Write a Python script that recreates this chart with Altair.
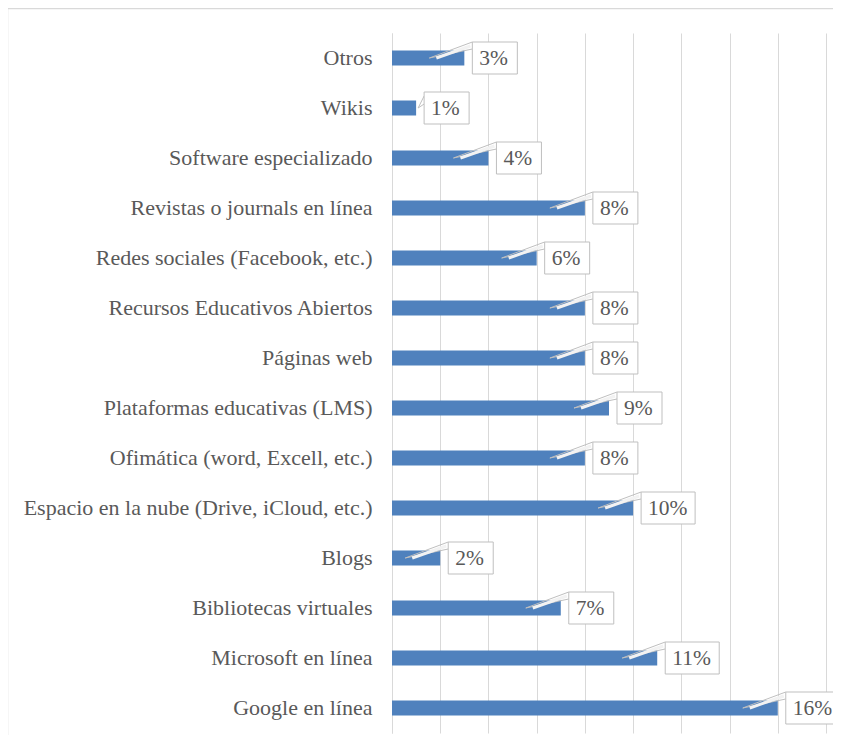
import altair as alt
import pandas as pd

SP = "\u2005"
categories = [
    "Otros" + SP, "Wikis" + SP, "Software especializado" + SP, "Revistas o journals en línea",
    "Redes sociales (Facebook, etc.)", "Recursos Educativos Abiertos", "Páginas web",
    "Plataformas educativas (LMS)", "Ofimática (word, Excell, etc.)" + SP,
    "Espacio en la nube (Drive, iCloud, etc.)" + SP, "Blogs", "Bibliotecas virtuales" + SP,
    "Microsoft en línea", "Google en línea" + SP,
]
values = [3, 1, 4, 8, 6, 8, 8, 9, 8, 10, 2, 7, 11, 16]
labels = [f"{v}%" for v in values]

df = pd.DataFrame({"cat": categories, "val": values, "lab": labels})

FONT = "Liberation Serif"
BLUE = "#4F81BD"
GRID = "#D9D9D9"
TXT = "#595959"

ysc = alt.Scale(domain=categories, paddingInner=0.7, paddingOuter=0.35)
xsc = alt.Scale(domain=[0, 18], nice=False)

y = alt.Y("cat:N", sort=categories, scale=ysc, title=None,
          axis=alt.Axis(labelFont=FONT, labelFontSize=22, labelColor=TXT, ticks=False,
                        labelPadding=20, domainColor=GRID, labelLimit=400))
x = alt.X("val:Q", scale=xsc, title=None,
          axis=alt.Axis(values=list(range(0, 19, 2)), labels=False, ticks=False, domain=False,
                        grid=True, gridColor=GRID))

base = alt.Chart(df)
ycat = alt.Y("cat:N", sort=categories)

bars = base.mark_bar(color=BLUE, size=15).encode(x=x, y=y)

ptr = base.transform_filter("datum.val >= 2")
p1 = ptr.mark_rule(color="#BFBFBF", strokeWidth=1, xOffset=-35, x2Offset=8, y2Offset=-16).encode(
    x="val:Q", x2="val:Q", y=ycat, y2="cat:N")
p2 = ptr.mark_rule(color="#BFBFBF", strokeWidth=1, xOffset=-35, x2Offset=8, y2Offset=-9).encode(
    x="val:Q", x2="val:Q", y=ycat, y2="cat:N")
p3 = ptr.mark_rule(color="#F2F2F2", strokeWidth=3, xOffset=-28, x2Offset=6, y2Offset=-12).encode(
    x="val:Q", x2="val:Q", y=ycat, y2="cat:N")

notch = base.transform_filter("datum.val < 2")
n1 = notch.mark_rule(color="#BFBFBF", strokeWidth=1, xOffset=8, yOffset=-12, x2Offset=2, y2Offset=0).encode(
    x="val:Q", x2="val:Q", y=ycat, y2="cat:N")
n2 = notch.mark_rule(color="#BFBFBF", strokeWidth=1, xOffset=2, yOffset=0, x2Offset=8, y2Offset=-4).encode(
    x="val:Q", x2="val:Q", y=ycat, y2="cat:N")

box1 = base.transform_filter("datum.val < 10").mark_bar(
    size=32, fill="white", stroke="#BFBFBF", strokeWidth=1, xOffset=8, x2Offset=53).encode(
    x="val:Q", x2="val:Q", y=ycat)
box2 = base.transform_filter("datum.val >= 10").mark_bar(
    size=32, fill="white", stroke="#BFBFBF", strokeWidth=1, xOffset=8, x2Offset=62).encode(
    x="val:Q", x2="val:Q", y=ycat)

txt = base.mark_text(align="left", baseline="middle", dx=15, dy=1, font=FONT, fontSize=21.5,
                     color=TXT).encode(x="val:Q", y=ycat, text="lab:N")

frame = pd.DataFrame({"a": [0]})
top_border = alt.Chart(frame).mark_rule(color=GRID, strokeWidth=1.5).encode(
    x=alt.value(-384.5), x2=alt.value(460), y=alt.value(-24.5))
left_border = alt.Chart(frame).mark_rule(color=GRID, strokeWidth=1.5).encode(
    x=alt.value(-384.5), y=alt.value(-24.5), y2=alt.value(730))

chart = alt.layer(bars, p1, p2, p3, n1, n2, box1, box2, txt, top_border, left_border).properties(
    width=434, height=700,
    autosize=alt.AutoSizeParams(type="none"),
    padding={"left": 384, "top": 25, "right": 7, "bottom": 2},
).configure_view(stroke=None)

chart.save("out.html", embed_options={"renderer": "svg", "actions": False})
